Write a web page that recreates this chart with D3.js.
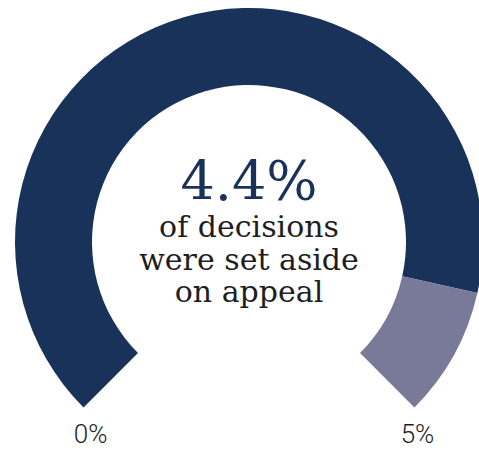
<!DOCTYPE html>
<html>
<head>
<meta charset="utf-8">
<script src="https://cdn.jsdelivr.net/npm/d3@7"></script>
<style>
  html, body { margin: 0; padding: 0; background: #ffffff; }
  svg { display: block; }
</style>
</head>
<body>
<svg id="chart" width="479" height="450"></svg>
<script>
// ---- data ----
const domainMin = 0;
const domainMax = 5;
const value = 4.4;
const segmentNames = ["set aside", "remainder"];
const segmentColors = ["#18325a", "#79799a"];
const headline = "4.4%";
const captionLines = ["of decisions", "were set aside", "on appeal"];
const tickLabels = ["0%", "5%"];

// ---- layout ----
const W = 479, H = 450;
const cx = 249, cy = 242;
const rOuter = 234, rInner = 157;
const startAngle = -0.75 * Math.PI, endAngle = 0.75 * Math.PI;

const svg = d3.select("#chart");
const g = svg.append("g").attr("transform", `translate(${cx},${cy})`);

const angle = d3.scaleLinear().domain([domainMin, domainMax]).range([startAngle, endAngle]);

const segments = [
  { name: segmentNames[0], from: domainMin, to: value, color: segmentColors[0] },
  { name: segmentNames[1], from: value, to: domainMax, color: segmentColors[1] }
];

const arc = d3.arc()
  .innerRadius(rInner)
  .outerRadius(rOuter)
  .startAngle(d => angle(d.from))
  .endAngle(d => angle(d.to));

g.selectAll("path.seg")
  .data(segments)
  .join("path")
  .attr("class", "seg")
  .attr("d", arc)
  .attr("fill", d => d.color);

// center text
g.append("text")
  .attr("x", 0)
  .attr("y", 200 - cy)
  .attr("text-anchor", "middle")
  .attr("font-family", "'DejaVu Serif', serif")
  .attr("font-weight", 300)
  .attr("font-size", 54)
  .attr("fill", segmentColors[0])
  .text(headline);

const lineY = [237, 270, 302];
g.selectAll("text.cap")
  .data(captionLines)
  .join("text")
  .attr("class", "cap")
  .attr("x", 0)
  .attr("y", (d, i) => lineY[i] - cy)
  .attr("text-anchor", "middle")
  .attr("font-family", "'DejaVu Serif', serif")
  .attr("font-weight", 300)
  .attr("font-size", 30)
  .attr("fill", "#1e1e1e")
  .text(d => d);

// tick labels under the ends
const tickVals = [domainMin, domainMax];
g.selectAll("text.tick")
  .data(tickVals)
  .join("text")
  .attr("class", "tick")
  .attr("x", (d, i) => Math.sin(angle(d)) * rOuter + (i === 0 ? 7 : 3))
  .attr("y", 443 - cy)
  .attr("text-anchor", "middle")
  .attr("font-family", "Roboto, 'Open Sans', sans-serif")
  .attr("font-weight", 300)
  .attr("font-size", 26)
  .attr("fill", "#1e1e1e")
  .text((d, i) => tickLabels[i]);
</script>
</body>
</html>
